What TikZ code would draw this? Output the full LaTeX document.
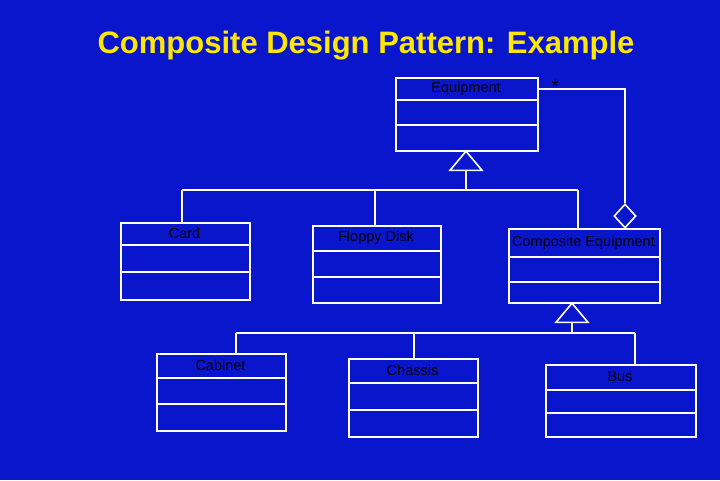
\documentclass[tikz,border=0pt]{standalone}
\usepackage{fontspec}
\setmainfont{Liberation Sans}
\usetikzlibrary{shapes.geometric}
\definecolor{bg}{RGB}{10,22,204}
\definecolor{ttl}{RGB}{255,232,0}
% class box: name, west x, north y, east x, south y, divider 1, divider 2, label
\newcommand{\umlbox}[8]{%
  \node [cls, anchor=north west, minimum width={#4-#2}, minimum height={#5-#3}] (#1) at (#2,#3) {};
  \draw [edg] (#2,#6) -- (#4,#6);
  \draw [edg] (#2,#7) -- (#4,#7);
  \node [lbl] (#1-l) at ({(#2+#4)/2},{#3+(#6-#3)/2}) {#8};
}
\begin{document}
\begin{tikzpicture}
  [
    x=1pt, y=-1pt,
    font=\fontsize{14.5}{17}\selectfont,
    edg/.style={white, line width=1.6pt},
    cls/.style={draw=white, line width=1.6pt, inner sep=0pt},
    lbl/.style={black},
    inh/.style={isosceles triangle, shape border rotate=90, isosceles triangle apex angle=80,
                draw=white, line width=1.6pt, minimum width=32pt, inner sep=0pt, anchor=apex},
    agg/.style={diamond, draw=white, line width=1.6pt, minimum width=22pt, minimum height=24pt, inner sep=0pt}
  ]
  \fill [bg] (0,0) rectangle (720,480);
  \node [ttl, font=\fontsize{31}{36}\selectfont\bfseries] (title) at (366,46)
    {Composite Design Pattern: Example};
  % classes
  \umlbox{eq}{395}{77}{537}{150}{100}{125}{Equipment}
  \umlbox{card}{120}{222}{249}{299}{245}{272}{Card}
  \umlbox{fd}{312}{225}{440}{302}{251}{277}{Floppy Disk}
  \umlbox{ce}{508}{228}{659}{302}{257}{282}{Composite Equipment}
  \umlbox{cab}{156}{353}{285}{430}{378}{404}{Cabinet}
  \umlbox{ch}{348}{358}{477}{436}{383}{410}{Chassis}
  \umlbox{bus}{545}{364}{695}{436}{390}{413}{Bus}
  % generalisation to Equipment
  \node [inh] (t1) at (466,150) {};
  \coordinate (j1) at (466,190);
  \draw [edg] (t1.south) -- (j1);
  \draw [edg] (182,190) -- (578,190);
  \draw [edg] (182,190) -- (182,222);
  \draw [edg] (375,190) -- (fd.north -| 375,0);
  \draw [edg] (578,190) -- (578,228);
  % aggregation
  \node [agg] (dia) at (625,216) {};
  \coordinate (c1) at (625,89);
  \draw [edg] (dia.north) -- (c1) -- (eq.east |- c1);
  \node [lbl, font=\fontsize{18}{20}\selectfont] (star) at (555,86) {*};
  % generalisation to Composite Equipment
  \node [inh] (t2) at (572,302) {};
  \coordinate (j2) at (572,333);
  \draw [edg] (t2.south) -- (j2);
  \draw [edg] (236,333) -- (635,333);
  \draw [edg] (236,333) -- (236,353);
  \draw [edg] (414,333) -- (414,358);
  \draw [edg] (635,333) -- (635,364);
\end{tikzpicture}
\end{document}
